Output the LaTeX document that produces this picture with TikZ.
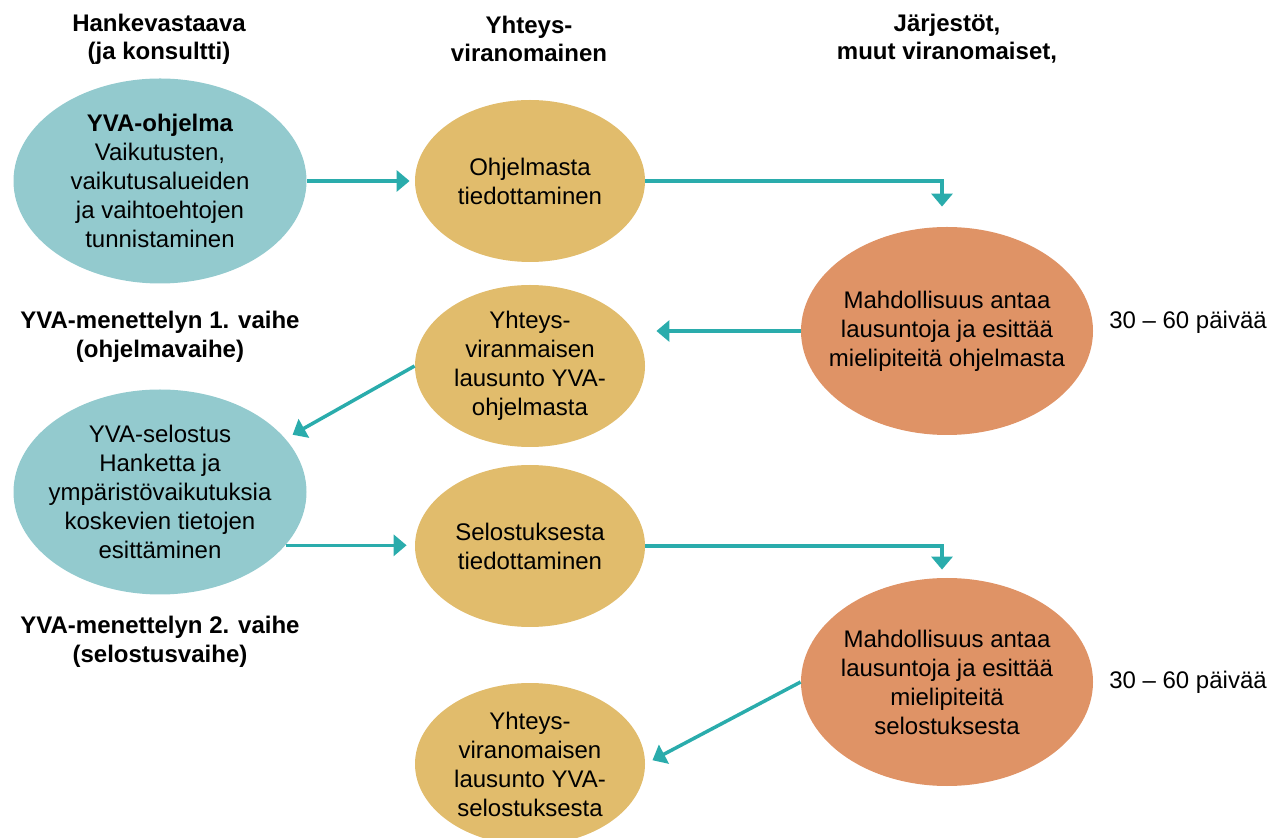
\documentclass[tikz,border=0pt]{standalone}
\usepackage{fontspec}
\setmainfont{Liberation Sans}
\usetikzlibrary{arrows.meta,shapes.geometric,positioning}

\definecolor{hankecol}{HTML}{93CACE}
\definecolor{virancol}{HTML}{E1BC6C}
\definecolor{jarjcol}{HTML}{DF9366}
\definecolor{nuolicol}{HTML}{2AACAC}

\begin{document}
\begin{tikzpicture}[x=0.5pt,y=-0.5pt,font=\fontsize{12}{14.5}\selectfont,
    pallo/.style={ellipse,inner xsep=-8pt,inner ysep=0pt,align=center},
    hanke/.style={pallo,fill=hankecol,minimum width=146.5pt,minimum height=102.5pt},
    viran/.style={pallo,fill=virancol,minimum width=115pt,minimum height=81pt},
    jarj/.style={pallo,fill=jarjcol,minimum width=146pt,minimum height=104pt},
    otsikko/.style={align=center,font=\fontsize{12}{14}\selectfont\bfseries},
    nuoli/.style={draw=nuolicol,line width=1.75pt,-{Triangle[width=10.5pt,length=6.5pt]}}]

            \useasboundingbox (0,0) rectangle (1284,838);

            % sarakkeiden otsikot
            \node[otsikko] (t1) at (159,39) {Hankevastaava\\(ja konsultti)};
            \node[otsikko] (t2) at (529,39) {Yhteys-\\viranomainen};
            \node[otsikko] (t3) at (947,39) {Järjestöt,\\muut viranomaiset,};

            % ohjelmavaihe
            \node[hanke] (h1) at (160,181) {\textbf{YVA-ohjelma}\\Vaikutusten,\\vaikutusalueiden\\ja vaihtoehtojen\\tunnistaminen};
            \node[viran] (y1) at (530,181) {Ohjelmasta\\tiedottaminen};
            \node[jarj] (j1) at (947,331) {Mahdollisuus antaa\\lausuntoja ja esittää\\mielipiteitä ohjelmasta};
            \node[viran] (y2) at (530,366) {Yhteys-\\viranmaisen\\lausunto YVA-\\ohjelmasta};
            \node[otsikko,font=\fontsize{12}{14.5}\selectfont\bfseries] (v1) at (160,337) {YVA-menettelyn 1. vaihe\\(ohjelmavaihe)};
            \node (p1) at (1188,322) {30 – 60 päivää};

            % selostusvaihe
            \node[hanke] (h2) at (160,492) {YVA-selostus\\Hanketta ja\\ympäristövaikutuksia\\koskevien tietojen\\esittäminen};
            \node[viran] (y3) at (530,546) {Selostuksesta\\tiedottaminen};
            \node[jarj] (j2) at (947,682) {Mahdollisuus antaa\\lausuntoja ja esittää\\mielipiteitä\\selostuksesta};
            \node[viran] (y4) at (530,764) {Yhteys-\\viranomaisen\\lausunto YVA-\\selostuksesta};
            \node[otsikko,font=\fontsize{12}{14.5}\selectfont\bfseries] (v2) at (160,642) {YVA-menettelyn 2. vaihe\\(selostusvaihe)};
            \node (p2) at (1188,682) {30 – 60 päivää};

            \draw[nuoli,shorten >=2.5pt] (h1.east) -- (y1.west);
            \draw[nuoli,shorten >=10pt] (y1.east) -| ([xshift=-2.5pt]j1.north);
            \draw[nuoli,shorten >=5.5pt] (j1.west) -- (j1.west -| y2.east);
            \draw[nuoli,shorten >=4pt] (y2.west) -- (h2.23);
            \draw[nuoli,shorten >=4pt] (h2.-23) -- (h2.-23 -| y3.west);
            \draw[nuoli,shorten >=4pt] (y3.east) -| ([xshift=-2.5pt]j2.north);
            \draw[nuoli,shorten >=4pt] (j2.west) -- (y4.east);

            \end{tikzpicture}
\end{document}
